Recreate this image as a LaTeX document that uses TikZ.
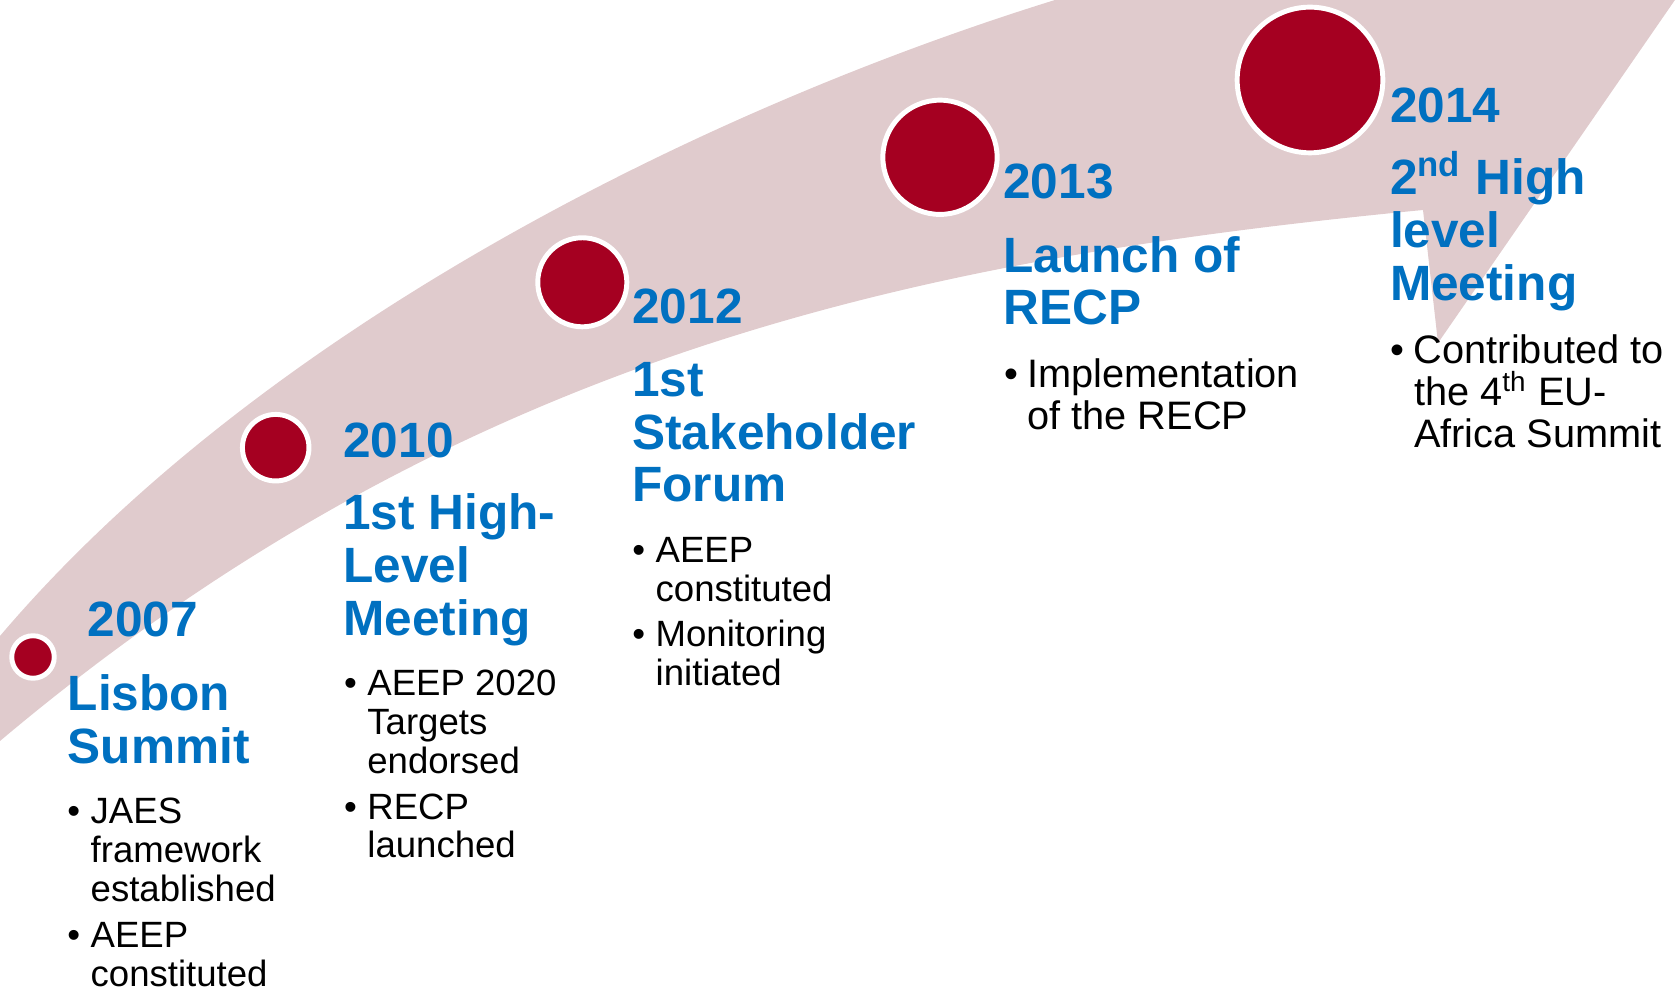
\documentclass[tikz,border=0pt]{standalone}
\usepackage{fontspec}
\setmainfont{Liberation Sans}

\definecolor{band}{RGB}{224,203,205}
\definecolor{dotred}{RGB}{165,0,33}
\definecolor{yearblue}{RGB}{0,112,192}

\tikzset{
	milestone/.style={circle,fill=dotred,draw=white,line width=1.4pt,inner sep=0pt},
	yeartext/.style={anchor=base west,inner sep=0pt,text=yearblue,font=\bfseries\fontsize{14.1}{14.94}\selectfont},
	titletext/.style={yeartext},
	notes/.style={anchor=base west,inner sep=0pt,font=\fontsize{10.4}{10.95}\selectfont},
	bignotes/.style={notes,font=\fontsize{11.3}{12}\selectfont}
}
\newcommand{\bul}{\llap{\makebox[6.6pt][l]{\textbullet}}}
\newcommand{\stack}[1]{\begin{tabular}[t]{@{}l@{}}#1\end{tabular}}
\newcommand{\sups}[1]{\smash{\textsuperscript{#1}}}

\begin{document}
\begin{tikzpicture}[x=0.01cm,y=-0.01cm]
			\useasboundingbox (0,0) rectangle (1678,989);
			\clip (0,0) rectangle (1678,989);
			\fill[band] (-40,683) -- (0,636) .. controls (260,330) and (700,110) .. (1055,0) -- (1250,-60) -- (1744,-100)
				-- (1438,343) -- (1423,210) .. controls (940,257) and (470,345) .. (0,741) -- (-40,775) -- cycle;
			\node[milestone,minimum size=0.425cm] (d07) at (33,657) {};
			\node[milestone,minimum size=0.665cm] (d10) at (275.7,447.7) {};
			\node[milestone,minimum size=0.89cm] (d12) at (582.3,282.3) {};
			\node[milestone,minimum size=1.142cm] (d13) at (940,157.3) {};
			\node[milestone,minimum size=1.456cm] (d14) at (1310,80) {};
			\node[yeartext] (y07) at (87,637) {2007};
			\node[titletext] (t07) at (67,711) {\stack{Lisbon\\Summit}};
			\node[notes] (n07) at (90,824) {\stack{\bul JAES\\framework\\established\\[2.4pt]\bul AEEP\\constituted}};
			\node[yeartext] (y10) at (342.7,457.3) {2010};
			\node[titletext] (t10) at (342.7,530) {\stack{1st High-\\Level\\Meeting}};
			\node[notes] (n10) at (366.7,696) {\stack{\bul AEEP 2020\\Targets\\endorsed\\[2.2pt]\bul RECP\\launched}};
			\node[yeartext] (y12) at (631.7,324) {2012};
			\node[titletext] (t12) at (631.7,396.7) {\stack{1st\\Stakeholder\\Forum}};
			\node[notes] (n12) at (655,563) {\stack{\bul AEEP\\constituted\\[1.9pt]\bul Monitoring\\initiated}};
			\node[yeartext] (y13) at (1002.7,199) {2013};
			\node[titletext] (t13) at (1002.7,272.3) {\stack{Launch of\\RECP}};
			\node[bignotes] (n13) at (1026.7,387.3) {\stack{\bul Implementation\\of the RECP}};
			\node[yeartext] (y14) at (1389.3,122.7) {2014};
			\node[titletext] (t14) at (1389.3,195) {\stack{2\sups{nd} High\\level\\Meeting}};
			\node[bignotes] (n14) at (1413.3,363.3) {\stack{\bul Contributed to\\the 4\sups{th} EU-\\Africa Summit}};
\end{tikzpicture}
\end{document}
